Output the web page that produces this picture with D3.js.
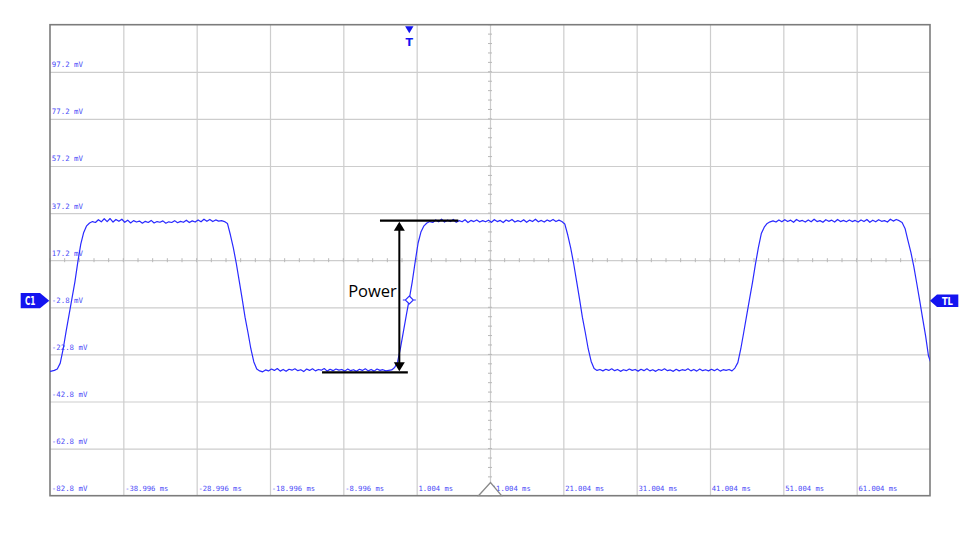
<!DOCTYPE html>
<html>
<head>
<meta charset="utf-8">
<script src="https://cdn.jsdelivr.net/npm/d3@7"></script>
<style>
  html, body { margin: 0; padding: 0; background: #ffffff; }
  svg { display: block; }
</style>
</head>
<body>
<svg id="chart" width="980" height="536"></svg>
<script>
// ---------------- DATA ----------------
// time axis: 12 divisions of 10 ms, amplitude axis: 10 divisions of 20 mV
const timeDomainMs = [-48.996, 71.004];
const voltDomainMv = [-82.8, 117.2];

const xGridMs = [-38.996, -28.996, -18.996, -8.996, 1.004, 11.004, 21.004, 31.004, 41.004, 51.004, 61.004];
const xTickLabels = ["-38.996 ms", "-28.996 ms", "-18.996 ms", "-8.996 ms", "1.004 ms", "11.004 ms",
                     "21.004 ms", "31.004 ms", "41.004 ms", "51.004 ms", "61.004 ms"];

const yGridMv = [97.2, 77.2, 57.2, 37.2, 17.2, -2.8, -22.8, -42.8, -62.8];
const yLabelMv = [97.2, 77.2, 57.2, 37.2, 17.2, -2.8, -22.8, -42.8, -62.8, -82.8];
const yTickLabels = ["97.2 mV", "77.2 mV", "57.2 mV", "37.2 mV", "17.2 mV", "-2.8 mV",
                     "-22.8 mV", "-42.8 mV", "-62.8 mV", "-82.8 mV"];

const centerTimeMs = 11.004;
const centerVoltMv = 17.2;

// channel 1 samples (mV), one sample every 0.4 ms starting at -49.2 ms
const sampleStartMs = -49.2;
const sampleStepMs = 0.4;
const traceMv = [
  // -49.2 .. -39.6
  -30.2, -29.9, -29.6, -29.0, -26.5, -20.5, -13.0, -6.0, 1.0, 8.0, 16.5, 24.0, 29.0, 31.8, 33.0, 33.6, 33.2, 34.4, 33.5, 34.8, 33.6, 34.9, 33.4, 34.5, 33.7,
  // -39.2 .. -29.6
  34.6, 33.3, 34.2, 33.0, 34.0, 33.4, 33.8, 32.9, 33.7, 33.2, 34.1, 33.0, 33.6, 33.3, 33.9, 32.9, 33.5, 33.2, 34.0, 33.1, 33.7, 33.3, 34.2, 33.2, 33.9,
  // -29.2 .. -19.6
  33.4, 34.3, 33.5, 34.6, 33.7, 34.5, 33.6, 34.3, 33.8, 34.0, 33.6, 32.8, 28.0, 22.5, 16.0, 8.5, 1.0, -7.0, -13.5, -20.5, -26.0, -29.0, -29.8, -30.2, -29.4,
  // -19.2 .. -9.6
  -29.8, -29.0, -29.6, -28.8, -29.9, -29.2, -30.0, -29.1, -29.5, -28.9, -29.7, -29.3, -30.1, -29.0, -29.6, -28.9, -29.8, -29.2, -29.5, -28.8, -29.9, -29.1, -29.7, -29.0, -29.5,
  // -9.2 .. 0.4
  -29.2, -29.9, -29.0, -29.7, -29.3, -30.0, -29.1, -29.6, -28.9, -29.8, -29.2, -29.9, -29.0, -29.6, -29.3, -29.8, -29.6, -29.4, -28.4, -26.0, -20.0, -13.0, -6.0, 0.8, 8.0,
  // 0.8 .. 10.4
  16.5, 24.5, 29.3, 31.8, 33.0, 33.6, 33.2, 34.3, 33.5, 34.6, 33.4, 34.2, 33.6, 34.5, 33.3, 34.0, 33.5, 34.4, 33.2, 34.1, 33.6, 34.3, 33.4, 34.0, 33.5,
  // 10.8 .. 20.4
  34.2, 33.3, 34.4, 33.6, 34.1, 33.2, 34.3, 33.7, 34.5, 33.4, 34.0, 33.5, 34.4, 33.3, 34.2, 33.6, 34.6, 33.5, 34.1, 33.4, 34.3, 33.7, 34.5, 33.6, 34.2,
  // 20.8 .. 30.4
  33.6, 32.6, 28.0, 22.5, 16.0, 8.5, 1.0, -7.0, -13.5, -20.5, -25.8, -28.8, -29.6, -29.2, -29.8, -29.1, -29.6, -28.9, -29.7, -29.2, -30.0, -29.3, -29.7, -29.0, -29.6,
  // 30.8 .. 40.4
  -29.2, -29.9, -29.1, -29.7, -28.9, -29.8, -29.3, -30.0, -29.2, -29.6, -28.9, -29.7, -29.4, -30.0, -29.1, -29.8, -29.3, -29.6, -28.9, -29.8, -29.2, -29.9, -29.0, -29.7, -29.3,
  // 40.8 .. 50.4
  -29.8, -29.1, -29.7, -29.0, -29.9, -29.3, -29.6, -29.2, -29.8, -28.6, -26.3, -20.5, -13.5, -6.3, 0.8, 7.8, 15.5, 22.5, 28.5, 31.2, 32.8, 33.5, 33.9, 33.4, 34.3,
  // 50.8 .. 60.4
  33.5, 34.4, 33.6, 34.2, 33.3, 34.5, 33.7, 34.1, 33.4, 34.3, 33.5, 34.6, 33.6, 34.0, 33.3, 34.4, 33.7, 34.2, 33.4, 34.5, 33.6, 34.1, 33.5, 34.3, 33.6,
  // 60.8 .. 70.4
  34.1, 33.4, 34.3, 33.6, 34.5, 33.3, 34.2, 33.5, 34.4, 33.7, 34.0, 33.4, 34.6, 33.8, 34.5, 34.0, 33.2, 30.7, 25.5, 20.5, 14.5, 7.3, 0.0, -7.5, -14.8,
  // 70.8 .. 71.2
  -23.5, -27.0
];

// trigger and markers
const triggerTimeMs = 0;
const triggerLevelMv = 0.3;
const channelOffsetMv = 0;

// "Power" annotation
const powerHighMv = 34.0;
const powerLowMv = -30.4;
const powerTopLineMs = [-4.0, 6.68];
const powerBottomLineMs = [-11.9, -0.2];
const powerArrowMs = -1.36;
const powerLabel = "Power";

// ---------------- DRAWING ----------------
const svg = d3.select("#chart");
const plotL = 50, plotR = 930, plotT = 24.7, plotB = 495.7;

const x = d3.scaleLinear().domain(timeDomainMs).range([plotL, plotR]);
const y = d3.scaleLinear().domain(voltDomainMv).range([plotB, plotT]);

const gridColor = "#cdcdcd";
const labelColor = "#4b4bf7";
const traceColor = "#2a2aff";
const markerBlue = "#1414f0";

// grid via axes
const gx = svg.append("g").attr("transform", `translate(0,${plotB})`)
  .call(d3.axisBottom(x).tickValues(xGridMs).tickSize(-(plotB - plotT)).tickFormat(""));
gx.select(".domain").remove();
gx.selectAll(".tick line").attr("stroke", gridColor).attr("stroke-width", 1.2);

const gy = svg.append("g").attr("transform", `translate(${plotL},0)`)
  .call(d3.axisLeft(y).tickValues(yGridMv).tickSize(-(plotR - plotL)).tickFormat(""));
gy.select(".domain").remove();
gy.selectAll(".tick line").attr("stroke", gridColor).attr("stroke-width", 1.2);

// minor ticks on the center lines
const minorT = d3.range(timeDomainMs[0], timeDomainMs[1] + 0.001, 2);
const minorV = d3.range(voltDomainMv[0], voltDomainMv[1] + 0.001, 4);
const ticksG = svg.append("g").attr("stroke", "#b8b8b8").attr("stroke-width", 1);
ticksG.selectAll("line.mt").data(minorT).join("line")
  .attr("x1", d => x(d)).attr("x2", d => x(d))
  .attr("y1", y(centerVoltMv) - 2).attr("y2", y(centerVoltMv) + 2);
ticksG.selectAll("line.mv").data(minorV).join("line")
  .attr("y1", d => y(d)).attr("y2", d => y(d))
  .attr("x1", x(centerTimeMs) - 2).attr("x2", x(centerTimeMs) + 2);

// frame
svg.append("rect").attr("x", plotL).attr("y", plotT)
  .attr("width", plotR - plotL).attr("height", plotB - plotT)
  .attr("fill", "none").attr("stroke", "#7c7c7c").attr("stroke-width", 1.6);

// y labels
svg.append("g").selectAll("text").data(yLabelMv).join("text")
  .attr("x", plotL + 1.8).attr("y", d => y(d) - 4.6)
  .attr("font-family", "DejaVu Sans Mono, monospace").attr("font-size", 7.4)
  .attr("fill", labelColor)
  .text((d, i) => yTickLabels[i]);

// x labels
svg.append("g").selectAll("text").data(xGridMs).join("text")
  .attr("x", d => x(d) + 1.8).attr("y", plotB - 4.6)
  .attr("font-family", "DejaVu Sans Mono, monospace").attr("font-size", 7.2)
  .attr("fill", labelColor)
  .text((d, i) => xTickLabels[i]);

// trace
svg.append("clipPath").attr("id", "plotClip").append("rect")
  .attr("x", plotL).attr("y", plotT).attr("width", plotR - plotL).attr("height", plotB - plotT);
const pts = traceMv.map((v, i) => [sampleStartMs + i * sampleStepMs, v]);
svg.append("path").datum(pts)
  .attr("clip-path", "url(#plotClip)")
  .attr("fill", "none").attr("stroke", traceColor).attr("stroke-width", 1.2)
  .attr("stroke-linejoin", "round")
  .attr("d", d3.line().x(d => x(d[0])).y(d => y(d[1])));

// center bottom triangle (horizontal position marker)
const cx = x(centerTimeMs);
svg.append("path")
  .attr("d", `M${cx - 11.5},${plotB} L${cx + 0.5},${plotB - 13.2} L${cx + 11.5},${plotB} Z`)
  .attr("fill", "#ffffff").attr("stroke", "#8a8a8a").attr("stroke-width", 1.3);

// trigger point marker (diamond)
const tx = x(triggerTimeMs), ty = y(triggerLevelMv);
svg.append("path")
  .attr("d", `M${tx},${ty - 4} L${tx + 4},${ty} L${tx},${ty + 4} L${tx - 4},${ty} Z M${tx - 6.5},${ty} L${tx - 4},${ty} M${tx + 4},${ty} L${tx + 6.5},${ty}`)
  .attr("fill", "#ffffff").attr("stroke", traceColor).attr("stroke-width", 1.1);

// trigger "T" marker at top
svg.append("path")
  .attr("d", `M${tx - 4.2},${plotT + 1.5} L${tx + 4.2},${plotT + 1.5} L${tx},${plotT + 8.5} Z`)
  .attr("fill", markerBlue);
svg.append("text").attr("x", tx).attr("y", plotT + 21)
  .attr("text-anchor", "middle").attr("font-family", "DejaVu Sans, sans-serif")
  .attr("font-weight", "bold").attr("font-size", 11).attr("fill", markerBlue).text("T");

// C1 marker (left)
const cy1 = y(channelOffsetMv);
svg.append("path")
  .attr("d", `M20.7,${cy1 - 7.6} L40,${cy1 - 7.6} L49.3,${cy1} L40,${cy1 + 7.6} L20.7,${cy1 + 7.6} Z`)
  .attr("fill", markerBlue);
svg.append("text").attr("x", 30.2).attr("y", cy1 + 4.6)
  .attr("text-anchor", "middle").attr("font-family", "DejaVu Sans, sans-serif")
  .attr("font-weight", "bold").attr("font-size", 12.5).attr("fill", "#ffffff")
  .attr("textLength", 10.5).attr("lengthAdjust", "spacingAndGlyphs").text("C1");

// TL marker (right)
const tly = y(channelOffsetMv);
svg.append("path")
  .attr("d", `M930,${tly} L937,${tly - 6.3} L958.3,${tly - 6.3} L958.3,${tly + 6.3} L937,${tly + 6.3} Z`)
  .attr("fill", markerBlue);
svg.append("text").attr("x", 947.4).attr("y", tly + 3.9)
  .attr("text-anchor", "middle").attr("font-family", "DejaVu Sans, sans-serif")
  .attr("font-weight", "bold").attr("font-size", 10.5).attr("fill", "#ffffff")
  .attr("textLength", 11).attr("lengthAdjust", "spacingAndGlyphs").text("TL");

// Power annotation
const ann = svg.append("g");
ann.append("line")
  .attr("x1", x(powerTopLineMs[0])).attr("x2", x(powerTopLineMs[1]))
  .attr("y1", y(powerHighMv)).attr("y2", y(powerHighMv))
  .attr("stroke", "#000").attr("stroke-width", 2.2);
ann.append("line")
  .attr("x1", x(powerBottomLineMs[0])).attr("x2", x(powerBottomLineMs[1]))
  .attr("y1", y(powerLowMv)).attr("y2", y(powerLowMv))
  .attr("stroke", "#000").attr("stroke-width", 2.2);
const ax = x(powerArrowMs), ay1 = y(powerHighMv), ay2 = y(powerLowMv);
ann.append("line").attr("x1", ax).attr("x2", ax).attr("y1", ay1 + 6).attr("y2", ay2 - 6)
  .attr("stroke", "#000").attr("stroke-width", 2);
ann.append("path")
  .attr("d", `M${ax},${ay1 + 1} L${ax + 5.5},${ay1 + 10} L${ax - 5.5},${ay1 + 10} Z`)
  .attr("fill", "#000");
ann.append("path")
  .attr("d", `M${ax},${ay2 - 1} L${ax + 5.5},${ay2 - 10} L${ax - 5.5},${ay2 - 10} Z`)
  .attr("fill", "#000");
ann.append("text").attr("x", ax - 2.5).attr("y", y(powerLowMv) - 75.5)
  .attr("text-anchor", "end").attr("font-family", "Open Sans, sans-serif")
  .attr("font-size", 16.5).attr("fill", "#000").text(powerLabel);
</script>
</body>
</html>
